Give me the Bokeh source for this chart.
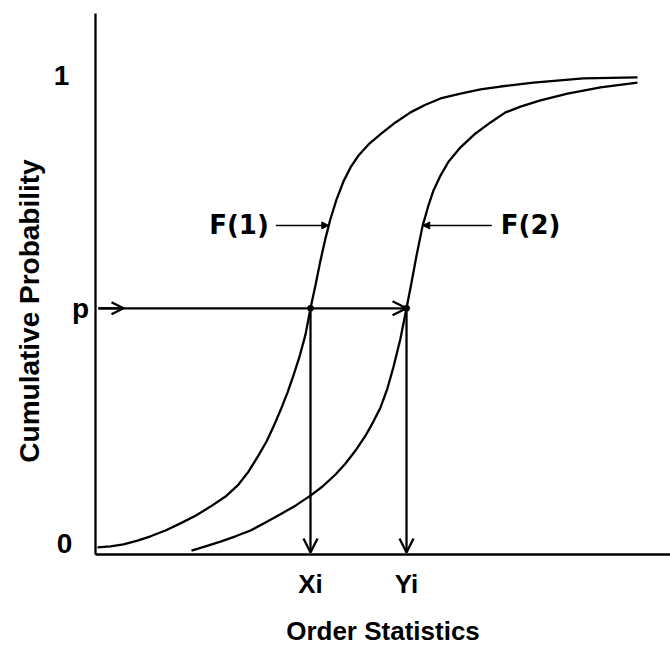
import numpy as np
from bokeh.plotting import figure
from bokeh.models import Range1d, Arrow, OpenHead, NormalHead
from bokeh.core.properties import value
from bokeh.embed import file_html
from bokeh.resources import INLINE

# Cumulative distribution curves F(1) and F(2) (order statistic, cumulative probability)
f1_x = [0.035, 0.261, 0.487, 0.730, 0.957, 1.217, 1.478, 1.739, 2.000, 2.261,
        2.487, 2.661, 2.835, 2.974, 3.096, 3.217, 3.339, 3.443, 3.548, 3.652,
        3.739, 3.826, 3.913, 4.000, 4.087, 4.191, 4.313, 4.435, 4.574, 4.748,
        4.974, 5.217, 5.478, 5.739, 6.000, 6.348, 6.696, 7.043, 7.617, 8.487,
        9.426]
f1_p = [0.015, 0.017, 0.021, 0.029, 0.038, 0.050, 0.065, 0.081, 0.100, 0.121,
        0.146, 0.173, 0.207, 0.236, 0.267, 0.301, 0.338, 0.374, 0.413, 0.459,
        0.514, 0.562, 0.614, 0.660, 0.701, 0.741, 0.779, 0.808, 0.833, 0.856,
        0.879, 0.902, 0.923, 0.939, 0.952, 0.962, 0.971, 0.977, 0.985, 0.994,
        0.996]

f2_x = [1.670, 1.913, 2.174, 2.435, 2.696, 2.957, 3.217, 3.478, 3.739, 3.948,
        4.174, 4.348, 4.522, 4.696, 4.835, 4.957, 5.078, 5.183, 5.304, 5.409,
        5.496, 5.583, 5.687, 5.791, 5.878, 6.000, 6.139, 6.348, 6.609, 6.870,
        7.130, 7.391, 7.739, 8.209, 8.783, 9.426]
f2_p = [0.008, 0.017, 0.027, 0.038, 0.050, 0.067, 0.084, 0.102, 0.123, 0.142,
        0.167, 0.190, 0.217, 0.248, 0.278, 0.307, 0.347, 0.392, 0.451, 0.514,
        0.568, 0.624, 0.685, 0.729, 0.760, 0.791, 0.820, 0.850, 0.879, 0.902,
        0.923, 0.935, 0.948, 0.962, 0.975, 0.985]

# Probability level p and the order statistics it maps to
p_level = 0.514
xi = 3.739
yi = 5.409
curve_label_level = 0.687

prob_ticks = [0, p_level, 1]
prob_labels = ["0", "p", "1"]
order_ticks = [xi, yi]
order_labels = ["Xi", "Yi"]
curve_names = ["F(1)", "F(2)"]
x_title = "Order Statistics"
y_title = "Cumulative Probability"

# ---- layout: origin at (95, 554) px on a 670 x 647 canvas ----
W, H = 670, 647
X0_PX, Y0_PX = 95, 554
PX_X, PX_Y = 57.5, 479.0
x_lo = -X0_PX / PX_X
x_hi = (W - X0_PX) / PX_X
y_lo = -(H - Y0_PX) / PX_Y
y_hi = Y0_PX / PX_Y
y_axis_top = (Y0_PX - 13) / PX_Y

p = figure(width=W, height=H, output_backend="svg", toolbar_location=None,
           x_range=Range1d(x_lo, x_hi), y_range=Range1d(y_lo, y_hi),
           min_border=0, outline_line_color=None)
p.axis.visible = False
p.grid.visible = False
p.background_fill_color = "white"
p.border_fill_color = "white"

ink = "black"
LW = 2.3
SANS = value("Liberation Sans")

# axes
p.line([0, 0], [0, y_axis_top], line_color=ink, line_width=LW)
p.line([0, x_hi], [0, 0], line_color=ink, line_width=LW)

# curves
p.line(f1_x, f1_p, line_color=ink, line_width=LW, line_join="round")
p.line(f2_x, f2_p, line_color=ink, line_width=LW, line_join="round")

# horizontal read-across from p to F(2)
p.add_layout(Arrow(end=OpenHead(size=14, line_width=LW, line_color=ink),
                   x_start=0.05, y_start=p_level, x_end=yi, y_end=p_level,
                   line_width=LW, line_color=ink))
p.add_layout(Arrow(end=OpenHead(size=12, line_width=LW, line_color=ink),
                   x_start=0.05, y_start=p_level, x_end=0.487, y_end=p_level,
                   line_width=LW, line_color=ink))

# drops to the order statistics axis
for xv in order_ticks:
    p.add_layout(Arrow(end=OpenHead(size=14, line_width=LW, line_color=ink),
                       x_start=xv, y_start=p_level, x_end=xv, y_end=0.004,
                       line_width=LW, line_color=ink))
p.scatter(order_ticks, [p_level] * len(order_ticks), size=6, color=ink)

# curve name pointers
x1 = float(np.interp(curve_label_level, f1_p, f1_x))
x2 = float(np.interp(curve_label_level, f2_p, f2_x))
tail1 = x1 - 53 / PX_X
tail2 = x2 + 69 / PX_X
for xs, xe in [(tail1, x1), (tail2, x2)]:
    p.add_layout(Arrow(end=NormalHead(size=7, fill_color=ink, line_color=ink),
                       x_start=xs, y_start=curve_label_level,
                       x_end=xe, y_end=curve_label_level,
                       line_width=1.6, line_color=ink))
p.text([tail1], [curve_label_level], text=[curve_names[0]], text_align="right",
       text_baseline="middle", x_offset=-7, text_font=value("DejaVu Sans"),
       text_font_style="bold", text_font_size="26px", text_color=ink)
p.text([tail2], [curve_label_level], text=[curve_names[1]], text_align="left",
       text_baseline="middle", x_offset=9, text_font=value("DejaVu Sans"),
       text_font_style="bold", text_font_size="26px", text_color=ink)

# probability tick labels
prob_dx = [-31, -15, -34]
prob_dy = [-11, 0, 0]
for v, lab, dx, dy in zip(prob_ticks, prob_labels, prob_dx, prob_dy):
    p.text([0], [v], text=[lab], text_align="center", text_baseline="middle",
           x_offset=dx, y_offset=dy, text_font=SANS, text_font_style="bold",
           text_font_size="28px", text_color=ink)

# order statistic tick labels
for v, lab in zip(order_ticks, order_labels):
    p.text([v], [0], text=[lab], text_align="center", text_baseline="middle",
           y_offset=29, text_font=SANS, text_font_style="bold",
           text_font_size="26px", text_color=ink)

# axis titles
p.text([(0 + x_hi) / 2], [0], text=[x_title], text_align="center",
       text_baseline="middle", y_offset=76, text_font=SANS,
       text_font_style="bold", text_font_size="26px", text_color=ink)
p.text([0], [0.5], text=[y_title], angle=np.pi / 2, x_offset=-66, y_offset=-4,
       text_align="center", text_baseline="middle", text_font=SANS,
       text_font_style="bold", text_font_size="28px", text_color=ink)

open("out.html", "w").write(file_html(p, INLINE))
